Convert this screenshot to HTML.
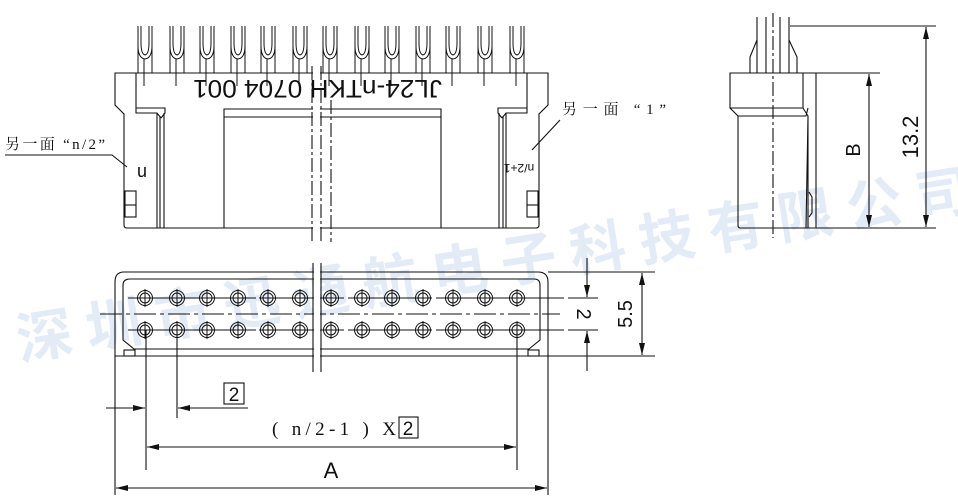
<!DOCTYPE html>
<html><head><meta charset="utf-8"><style>
html,body{margin:0;padding:0;background:#fff;width:958px;height:502px;overflow:hidden}
svg{display:block}
text{font-family:"Liberation Sans","Noto Sans CJK SC",sans-serif;fill:#111}
</style></head><body>
<svg width="958" height="502" viewBox="0 0 958 502" xmlns="http://www.w3.org/2000/svg">
<defs>
<marker id="ar" viewBox="0 0 12 6" refX="12" refY="3" markerWidth="12" markerHeight="6" orient="auto-start-reverse" markerUnits="userSpaceOnUse"><path d="M0,0 L12,3 L0,6 z" fill="#111"/></marker>
<g id="pin" fill="none" stroke="#111" stroke-width="1">
<path d="M-7,0 V20 Q-7,32 0,33 Q7,32 7,20 V0"/>
<path d="M-4,0 V17 Q-4,28 0,29 Q4,28 4,17 V0"/>
<line x1="-7" y1="20" x2="-7" y2="47"/><line x1="7" y1="20" x2="7" y2="47"/>
<line x1="-1" y1="33" x2="-1" y2="60"/>
</g>
<g id="hole" fill="none" stroke="#111" stroke-width="1">
<circle r="7.5"/><circle r="5"/>
<line x1="-9" y1="0" x2="9" y2="0"/><line x1="0" y1="-9" x2="0" y2="9"/>
</g>
</defs>

<!-- watermark -->
<text x="20" y="360" transform="rotate(-9 20 360)" style="font-family:'Noto Sans CJK SC',sans-serif;font-size:56px;fill:#e3ebf6;letter-spacing:14px;font-weight:bold">深圳市迅通航电子科技有限公司</text>

<g fill="none" stroke="#111" stroke-width="1.1">
<!-- FRONT VIEW -->
<g transform="translate(0,26)">
<use href="#pin" x="145"/><use href="#pin" x="177"/><use href="#pin" x="207"/><use href="#pin" x="238"/><use href="#pin" x="268"/><use href="#pin" x="300"/><use href="#pin" x="330"/><use href="#pin" x="362"/><use href="#pin" x="392"/><use href="#pin" x="423"/><use href="#pin" x="453"/><use href="#pin" x="485"/><use href="#pin" x="517"/>
</g>
<path d="M115,73 H548 V105 L539,114 V225 Q539,228 536,228 H127 Q124,228 124,225 V114 L115,105 Z"/>
<path d="M136,73 V108 H165 V113 L161,118 M136,108 V113 H157 L161,118"/>
<line x1="157" y1="113" x2="157" y2="228"/><line x1="160" y1="116" x2="160" y2="228"/><line x1="164" y1="113" x2="164" y2="228"/>
<path d="M527,73 V108 H498 V113 L502,118 M527,108 V113 H506 L502,118"/>
<line x1="506" y1="113" x2="506" y2="228"/><line x1="503" y1="116" x2="503" y2="228"/><line x1="499" y1="113" x2="499" y2="228"/>
<path d="M224,228 V109 H441 V228 M224,117 H441"/>
<rect x="125" y="191" width="11" height="26"/><line x1="125" y1="205" x2="136" y2="205"/>
<rect x="527" y="191" width="11" height="26"/><line x1="527" y1="205" x2="538" y2="205"/>
<g stroke-dasharray="14,3,3,3" fill="none">
<line x1="312" y1="66" x2="312" y2="242"/><line x1="321" y1="66" x2="321" y2="242"/><line x1="331" y1="100" x2="331" y2="242"/>
</g>
<rect x="313" y="70" width="7" height="172" fill="#fff" stroke="none"/>

<!-- SIDE VIEW -->
<path d="M757,17 V73 M766,17 V73 M780,17 V73 M789,17 V73"/>
<path d="M757,40 L750,57 V73 M789,40 L797,57 V73"/>
<path d="M730,73 H816 V228 H740 Q738,228 738,225 V116 L730,108 Z"/>
<path d="M730,108 H803 V73 M738,116 H806 L808,108 M803,108 L808,116 V228 M808,116 L806,228"/>
<path d="M809,192 L812,197 V213 L809,217"/>
<line x1="773" y1="13" x2="773" y2="238" stroke-dasharray="14,3,3,3"/>
<line x1="790" y1="26" x2="936" y2="26"/><line x1="816" y1="73" x2="880" y2="73"/><line x1="816" y1="228" x2="936" y2="228"/>
<line x1="869" y1="74" x2="869" y2="227" marker-start="url(#ar)" marker-end="url(#ar)"/>
<line x1="926" y1="27" x2="926" y2="227" marker-start="url(#ar)" marker-end="url(#ar)"/>

<!-- BOTTOM VIEW -->
<path d="M124,272 H538 Q548,272 548,282 V356 H115 V282 Q115,272 124,272 Z"/>
<path d="M130,279 H534 Q540,279 540,285 V340 L529,349 H134 L123,340 V285 Q123,279 130,279 Z"/>
<rect x="124" y="350" width="11" height="6"/><rect x="528" y="350" width="11" height="6"/>
<line x1="100" y1="314" x2="560" y2="314" stroke-dasharray="22,4,4,4"/>
<line x1="128" y1="298" x2="598" y2="298" stroke-dasharray="40,4"/>
<line x1="128" y1="330" x2="598" y2="330" stroke-dasharray="40,4"/>
<line x1="548" y1="272" x2="655" y2="272"/><line x1="548" y1="356" x2="655" y2="356"/>
<line x1="587" y1="258" x2="587" y2="297" marker-end="url(#ar)"/>
<line x1="587" y1="371" x2="587" y2="331" marker-end="url(#ar)"/>
<line x1="642" y1="273" x2="642" y2="355" marker-start="url(#ar)" marker-end="url(#ar)"/>
<g stroke="#111"><line x1="313" y1="263" x2="313" y2="372"/><line x1="321" y1="263" x2="321" y2="372"/></g>
<rect x="314" y="264" width="6" height="107" fill="#fff" stroke="none"/>
<g>
<use href="#hole" x="145" y="298"/><use href="#hole" x="177" y="298"/><use href="#hole" x="207" y="298"/><use href="#hole" x="238" y="298"/><use href="#hole" x="268" y="298"/><use href="#hole" x="300" y="298"/><use href="#hole" x="331" y="298"/><use href="#hole" x="362" y="298"/><use href="#hole" x="392" y="298"/><use href="#hole" x="423" y="298"/><use href="#hole" x="453" y="298"/><use href="#hole" x="485" y="298"/><use href="#hole" x="517" y="298"/>
<use href="#hole" x="145" y="330"/><use href="#hole" x="177" y="330"/><use href="#hole" x="207" y="330"/><use href="#hole" x="238" y="330"/><use href="#hole" x="268" y="330"/><use href="#hole" x="300" y="330"/><use href="#hole" x="331" y="330"/><use href="#hole" x="362" y="330"/><use href="#hole" x="392" y="330"/><use href="#hole" x="423" y="330"/><use href="#hole" x="453" y="330"/><use href="#hole" x="485" y="330"/><use href="#hole" x="517" y="330"/>
</g>
<!-- dims -->
<line x1="146" y1="330" x2="146" y2="470"/><line x1="177" y1="330" x2="177" y2="418"/><line x1="517" y1="330" x2="517" y2="470"/>
<line x1="115" y1="356" x2="115" y2="495"/><line x1="548" y1="356" x2="548" y2="495"/>
<line x1="106" y1="408" x2="145" y2="408" marker-end="url(#ar)"/>
<line x1="248" y1="408" x2="178" y2="408" marker-end="url(#ar)"/>
<rect x="224" y="383" width="20" height="21"/>
<line x1="147" y1="447" x2="516" y2="447" marker-start="url(#ar)" marker-end="url(#ar)"/>
<rect x="399" y="417" width="19" height="21"/>
<line x1="116" y1="488" x2="547" y2="488" marker-start="url(#ar)" marker-end="url(#ar)"/>

<!-- leaders -->
<path d="M5,155 H112 L127,167"/>
<path d="M560,120 L532,150"/>
</g>

<!-- texts -->
<text x="192" y="104" transform="rotate(180 317 92)" style="font-size:25px" textLength="249" lengthAdjust="spacingAndGlyphs">JL24-nTKH 0704 001</text>
<text x="142" y="160" transform="rotate(180 142 160)" style="font-size:18px" text-anchor="middle" dy="-7">n</text>
<text x="519" y="160" transform="rotate(180 519 160)" style="font-size:12px" text-anchor="middle" dy="-4">n/2+1</text>
<text x="5" y="149" style="font-family:'Liberation Serif','Noto Serif CJK SC',serif;font-size:15px" textLength="100">另一面 “n/2”</text>
<text x="562" y="114" style="font-family:'Liberation Serif','Noto Serif CJK SC',serif;font-size:15px" textLength="104">另一面 “1”</text>
<text x="234" y="401" style="font-size:19px" text-anchor="middle">2</text>
<text x="408" y="435" style="font-size:19px" text-anchor="middle">2</text>
<text x="272" y="435" style="font-family:'Liberation Serif',serif;font-size:19px" textLength="124">( n/2-1 ) X</text>
<text x="331" y="478" style="font-size:22px" text-anchor="middle">A</text>
<text transform="translate(577,314) rotate(90)" style="font-size:20px" text-anchor="middle">2</text>
<text transform="translate(632,314) rotate(-90)" style="font-size:20px" text-anchor="middle">5.5</text>
<text transform="translate(860,150) rotate(-90)" style="font-size:20px" text-anchor="middle">B</text>
<text transform="translate(918,137) rotate(-90)" style="font-size:22px" text-anchor="middle">13.2</text>
</svg>
</body></html>
